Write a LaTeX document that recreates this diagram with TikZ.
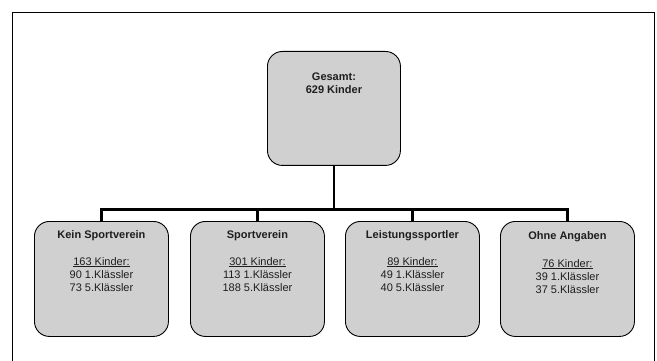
\documentclass[tikz,border=0pt]{standalone}
\usepackage{fontspec}
\setmainfont{Liberation Sans}
\usetikzlibrary{calc}
\definecolor{boxgray}{RGB}{208,208,208}
\definecolor{txtgray}{RGB}{30,30,30}
\begin{document}
\begin{tikzpicture}[x=1pt,y=-1pt,
  box/.style={draw=black, line width=0.9pt, fill=boxgray, rounded corners=15pt,
    minimum width=134pt, minimum height=115pt, inner sep=0pt, anchor=north west},
  topbox/.style={box, minimum width=133pt, minimum height=114pt},
  conn/.style={line width=2.6pt, line join=miter},
  lbl/.style={anchor=north, align=center, inner sep=0pt, text=txtgray,
    font=\fontsize{11}{13}\selectfont}]
\useasboundingbox (0,0) rectangle (657,361);
\draw[line width=0.9pt] (12.5,380) -- (12.5,12.5) -- (654,12.5) -- (654,380);

\node[topbox] (top) at (267,51) {};
\node[box] (k1) at (34,221) {};
\node[box] (k2) at (190,221) {};
\node[box] (k3) at (345,221) {};
\node[box] (k4) at (500,221) {};

\coordinate (bus) at (0,209.5);
\draw[conn] (top.south) -- (top.south |- bus);
\draw[conn] (k1.north) -- (k1.north |- bus) -- (k4.north |- bus) -- (k4.north);
\draw[conn] (k2.north |- bus) -- (k2.north);
\draw[conn] (k3.north |- bus) -- (k3.north);

\node[lbl] (t0) at ($(top.north)+(0,22)$) {\textbf{Gesamt:}\\ \textbf{629 Kinder}};
\node[lbl] (t1) at ($(k1.north)+(0,9)$) {\textbf{Kein Sportverein}\\[14pt] \underline{163 Kinder:}\\ 90 1.Klässler\\ 73 5.Klässler};
\node[lbl] (t2) at ($(k2.north)+(0,9)$) {\textbf{Sportverein}\\[14pt] \underline{301 Kinder:}\\ 113 1.Klässler\\ 188 5.Klässler};
\node[lbl] (t3) at ($(k3.north)+(0,9)$) {\textbf{Leistungssportler}\\[14pt] \underline{89 Kinder:}\\ 49 1.Klässler\\ 40 5.Klässler};
\node[lbl] (t4) at ($(k4.north)+(0,10)$) {\textbf{Ohne Angaben}\\[15pt] \underline{76 Kinder:}\\ 39 1.Klässler\\ 37 5.Klässler};
\end{tikzpicture}
\end{document}
